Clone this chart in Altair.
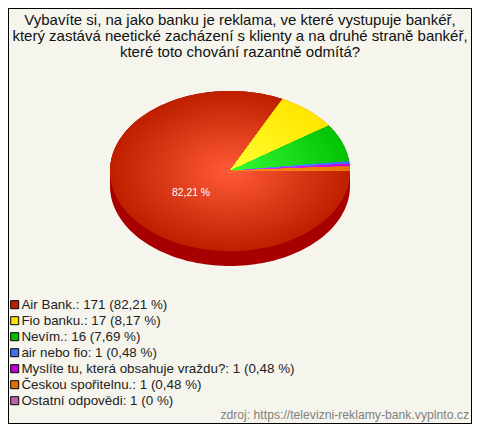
import math
import altair as alt

title_lines = [
    "Vybavíte si, na jako banku je reklama, ve které vystupuje bankéř,",
    "který zastává neetické zacházení s klienty a na druhé straně bankéř,",
    "které toto chování razantně odmítá?",
]
categories = ["Air Bank.", "Fio banku.", "Nevím.", "air nebo fio",
              "Myslíte tu, která obsahuje vraždu?", "Českou spořitelnu.", "Ostatní odpovědi"]
counts = [171, 17, 16, 1, 1, 1, 1]
percent_text = ["82,21", "8,17", "7,69", "0,48", "0,48", "0,48", "0"]
legend_colors = ["#C02000", "#FFE000", "#00C000", "#4070F0", "#C000D0", "#E07000", "#C060B0"]
edge_rgb = [(190, 32, 0), (255, 230, 0), (5, 195, 5), (60, 110, 250), (200, 0, 220), (230, 120, 0), (230, 120, 0)]
center_rgb = [(255, 90, 56), (255, 255, 50), (55, 250, 55), (100, 150, 255), (235, 60, 255), (255, 150, 30), (255, 150, 30)]
source_text = "zdroj: https://televizni-reklamy-bank.vyplnto.cz"
slice_label = "82,21 %"

RX, RY, DEPTH = 120, 80, 15
RINGS = 30
FONT = "Liberation Sans"

labels = [f"{c}: {n} ({p} %)" for c, n, p in zip(categories, counts, percent_text)]


def wedge(a0, a1, f):
    n = max(2, int((a1 - a0) / 2) + 2)
    pts = [[0, 0]]
    for i in range(n):
        t = math.radians(a0 + (a1 - a0) * i / (n - 1))
        pts.append([f * RX * math.cos(t), -f * RY * math.sin(t)])
    pts.append([0, 0])
    return pts


def feature(pts, **props):
    return {"type": "Feature", "properties": props,
            "geometry": {"type": "Polygon", "coordinates": [pts]}}


total = sum(counts)
base, rings = [], []
a = 0.0
for i, n in enumerate(counts):
    b = a + 360 * n / total
    base.append(feature(wedge(a, b, 1), label=labels[i]))
    for k in range(RINGS):
        f = 1 - k / RINGS
        s = k / (RINGS - 1)
        rgb = [round(e + (c - e) * s) for e, c in zip(edge_rgb[i], center_rgb[i])]
        rings.append(feature(wedge(a, b, f), fill="#%02x%02x%02x" % tuple(rgb)))
    a = b

side_pts = []
for d in range(0, 181, 2):
    t = math.radians(d)
    side_pts.append([RX * math.cos(t), -RY * math.sin(t) - DEPTH])
for d in range(180, 361, 2):
    t = math.radians(d)
    side_pts.append([RX * math.cos(t), -RY * math.sin(t)])
side_pts.append(side_pts[0])

proj = dict(type="identity", scale=1, translate=[222, 163], reflectY=True)

side = alt.Chart(alt.Data(values=[feature(side_pts, fill="#A80000")])).mark_geoshape(
    strokeWidth=0, fill="#A80000").project(**proj)

legend = alt.Legend(orient="none", legendX=0, legendY=290, title=None, symbolType="square",
                    symbolSize=64, symbolStrokeColor="#000000", symbolStrokeWidth=1, symbolOpacity=1,
                    labelFont=FONT, labelFontSize=13.4, labelColor="#222222", labelLimit=0,
                    rowPadding=1, labelOffset=0, padding=0)
wedges = alt.Chart(alt.Data(values=base)).mark_geoshape(strokeWidth=0).encode(
    color=alt.Color("properties.label:N", sort=None,
                    scale=alt.Scale(domain=labels, range=legend_colors), legend=legend)
).project(**proj)

gradient = alt.Chart(alt.Data(values=rings)).mark_geoshape(strokeWidth=0).encode(
    fill=alt.Fill("properties.fill:N", scale=None)
).project(**proj)

pct = alt.Chart(alt.Data(values=[{"t": slice_label}])).mark_text(
    font=FONT, fontSize=10.4, color="#ffffff", align="center", baseline="middle"
).encode(text="t:N", x=alt.value(183), y=alt.value(185))

src = alt.Chart(alt.Data(values=[{"t": source_text}])).mark_text(
    font=FONT, fontSize=12.2, color="#808080", align="right", baseline="middle"
).encode(text="t:N", x=alt.value(461), y=alt.value(407))

chart = alt.layer(side, wedges, gradient, pct, src).properties(
    width=464, height=416, padding=0,
    autosize=alt.AutoSizeParams(type="none"),
    background="#F5F5ED",
    title=alt.TitleParams(text=title_lines, orient="none", anchor="middle", dx=232, dy=12,
                          font=FONT, fontSize=15, fontWeight="normal", color="#111111", lineHeight=16,
                          baseline="middle"),
).resolve_scale(color="independent", fill="independent").configure_view(
    stroke="#000000", strokeWidth=2, fill="#F5F5ED")

chart.save("out.html", embed_options={"renderer": "svg", "actions": False})
